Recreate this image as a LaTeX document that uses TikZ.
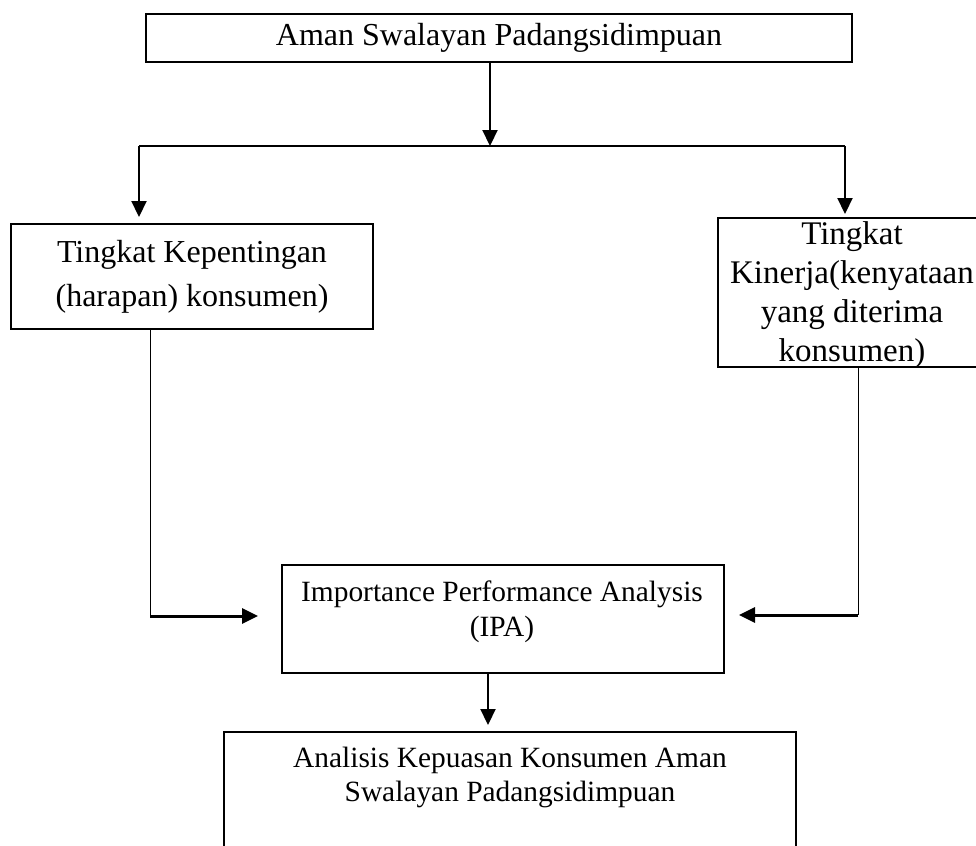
\documentclass[tikz,border=0pt]{standalone}
\usepackage{fontspec}
\setmainfont{Liberation Serif}
\usetikzlibrary{arrows.meta}
\begin{document}
\begin{tikzpicture}[x=0.5pt,y=-0.5pt,
  box/.style={draw, line width=1pt, inner sep=0pt},
  txt/.style={font=\fontsize{16}{19}\selectfont, align=center, inner sep=0pt},
  arr/.style={line width=1.1pt, -{Triangle[length=8pt,width=7.5pt]}},
  harr/.style={line width=1.5pt, -{Triangle[length=8pt,width=7.5pt]}},
  thinline/.style={line width=0.5pt}]
\useasboundingbox (0,0) rectangle (976,846);

% boxes
\node[box, minimum width=353pt, minimum height=24pt] (top) at (499,38) {};
\node[box, minimum width=181pt, minimum height=52.5pt] (lb) at (192,276.5) {};
\node[box, minimum width=130.5pt, minimum height=74.5pt] (rb) at (848.5,292.5) {};
\node[box, minimum width=221pt, minimum height=54pt] (ipa) at (503,619) {};
\node[box, minimum width=286pt, minimum height=74pt] (bot) at (510,806) {};

% texts
\node[txt] (topt) at (499,38) {Aman Swalayan Padangsidimpuan};
\node[txt, font=\fontsize{16}{22}\selectfont] (lbt) at (192,277) {Tingkat Kepentingan\\(harapan) konsumen)};
\node[txt, font=\fontsize{16.5}{19.5}\selectfont] (rbt) at (852,295) {Tingkat\\Kinerja(kenyataan\\yang diterima\\konsumen)};
\node[txt, font=\fontsize{14.7}{17.5}\selectfont] (ipat) at (502,612) {Importance Performance Analysis\\(IPA)};
\node[txt, font=\fontsize{14.7}{17}\selectfont] (bott) at (510,777) {Analisis Kepuasan Konsumen Aman\\Swalayan Padangsidimpuan};

% connectors
\coordinate (a1) at (490,146);
\coordinate (jl) at (139,146);
\coordinate (jr) at (845,146);
\draw[arr] (top.south -| a1) -- (a1);
\draw[line width=1.1pt] (jl) -- (jr);
\draw[arr, shorten >=3pt] (jl) -- (lb.north -| jl);
\draw[arr, shorten >=1.5pt] (jr) -- (rb.north -| jr);

\coordinate (ll) at (150,616);
\coordinate (rl) at (858,615);
\draw[thinline] (lb.south -| ll) -- (ll);
\draw[harr, shorten >=11.5pt] (ll) -- (ipa.west |- ll);
\draw[thinline] (rb.south -| rl) -- (rl);
\draw[harr, shorten >=7pt] (rl) -- (ipa.east |- rl);

\coordinate (bx) at (488,700);
\draw[arr, shorten >=3pt] (ipa.south -| bx) -- (bot.north -| bx);
\end{tikzpicture}
\end{document}
